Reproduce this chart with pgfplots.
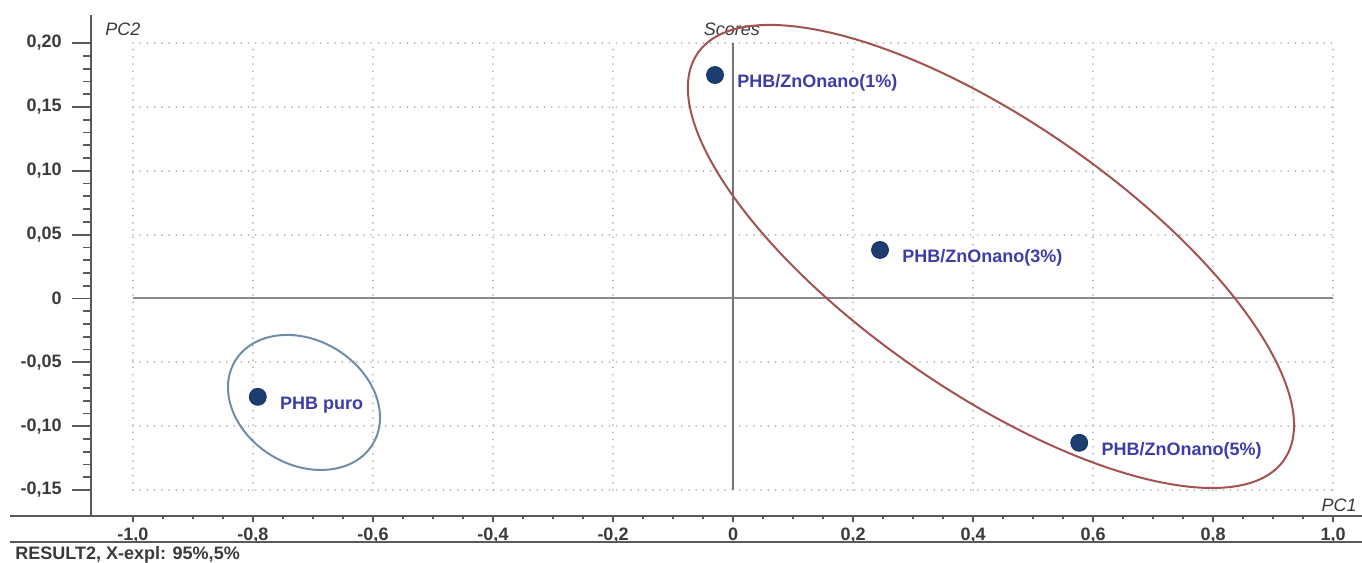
\documentclass[border=0pt]{standalone}
\usepackage{pgfplots}
\pgfplotsset{compat=1.18}
\usepackage{fontspec}
\setmainfont{Liberation Sans}
\definecolor{ptcol}{HTML}{1C3D70}
\definecolor{lblcol}{HTML}{3D3DA8}
\definecolor{redell}{HTML}{A3524F}
\definecolor{blueell}{HTML}{6F8DA9}
\definecolor{axcol}{HTML}{5A5A5A}
\definecolor{gridcol}{HTML}{B2B2B2}
\definecolor{zerocol}{HTML}{8A8A8A}
\definecolor{txtcol}{HTML}{3A3A3A}
\tikzset{gridline/.style={gridcol, line width=0.9pt, line cap=round, dash pattern=on 0.01pt off 3.6pt}}
\begin{document}
\begin{tikzpicture}
\useasboundingbox (-45.5pt,-23.5pt) rectangle (635.5pt,258pt);
\begin{axis}[
  at={(0pt,0pt)}, anchor=south west,
  scale only axis, width=635.5pt, height=250.5pt,
  xmin=-1.07, xmax=1.0483, ymin=-0.17032, ymax=0.22200,
  axis x line*=bottom, axis y line*=left,
  axis line style={draw=none},
  clip=false,
  font=\fontsize{9}{10.8}\selectfont,
  xtick={-1,-0.8,-0.6,-0.4,-0.2,0,0.2,0.4,0.6,0.8,1},
  xticklabels={{-1,0},{-0,8},{-0,6},{-0,4},{-0,2},0,{0,2},{0,4},{0,6},{0,8},{1,0}},
  xtick style={draw=none},
  ytick={-0.15,-0.1,-0.05,0,0.05,0.1,0.15,0.2},
  yticklabels={{-0,15},{-0,10},{-0,05},0,{0,05},{0,10},{0,15},{0,20}},
  minor y tick num=4,
  ytick style={axcol, line width=0.9pt},
  tick align=outside,
  major tick length=9.5pt, minor tick length=4pt,
  ticklabel style={font=\fontsize{9}{10.8}\selectfont\bfseries, text=txtcol},
  xticklabel style={anchor=base, inner sep=0pt, yshift=-2.5pt},
  yticklabel style={inner sep=0pt, xshift=-5pt},
]
% grid
\pgfplotsinvokeforeach{-1,-0.8,-0.6,-0.4,-0.2,0.2,0.4,0.6,0.8,1}{
  \draw[gridline] (axis cs:#1,-0.15) -- (axis cs:#1,0.2);}
\pgfplotsinvokeforeach{-0.15,-0.1,-0.05,0.05,0.1,0.15,0.2}{
  \draw[gridline] (axis cs:-1,#1) -- (axis cs:1,#1);}
% zero lines
\draw[zerocol, line width=1pt] (axis cs:-1,0) -- (axis cs:1,0);
\draw[zerocol!85!black, line width=1pt] (axis cs:0,-0.15) -- (axis cs:0,0.2);
% axis lines
\draw[axcol, line width=1.1pt] (axis cs:-1.07,-0.17032) -- (axis cs:-1.07,0.222);
\draw[axcol, line width=1.1pt] (axis cs:-1.205,-0.17032) -- (axis cs:1.0483,-0.17032);
\draw[axcol, line width=1.1pt] (axis cs:-1.205,-0.1907) -- (axis cs:1.0483,-0.1907);
% x ticks
\pgfplotsinvokeforeach{-1,-0.8,-0.6,-0.4,-0.2,0,0.2,0.4,0.6,0.8,1}{
  \draw[axcol, line width=0.7pt] (axis cs:#1,-0.17032) -- ++(0pt,-2.8pt);}
\pgfplotsinvokeforeach{-0.95,-0.9,-0.85,-0.75,-0.7,-0.65,-0.55,-0.5,-0.45,-0.35,-0.3,-0.25,-0.15,-0.1,-0.05,0.05,0.1,0.15,0.25,0.3,0.35,0.45,0.5,0.55,0.65,0.7,0.75,0.85,0.9,0.95}{
  \draw[axcol, line width=0.6pt] (axis cs:#1,-0.17032) -- ++(0pt,-1.4pt);}
% data
\addplot[only marks, mark=*, mark size=4.25pt,
  mark options={fill=ptcol, draw=ptcol!80!black, line width=0.4pt},
  point meta=explicit symbolic, nodes near coords,
  every node near coord/.style={anchor=west, xshift=11pt, yshift=-4pt, inner sep=0pt,
    font=\fontsize{9}{10.8}\selectfont\bfseries, text=lblcol}]
coordinates {
 (-0.03,0.175) [PHB/ZnOnano(1\%)]
 (0.245,0.038) [PHB/ZnOnano(3\%)]
 (0.577,-0.113) [PHB/ZnOnano(5\%)]
 (-0.792,-0.077) [PHB puro]
};
% texts
\node[anchor=west, inner sep=0pt, font=\fontsize{9}{10.8}\selectfont\itshape, text=txtcol] at (axis cs:-1.0467,0.211) {PC2};
\node[anchor=center, inner sep=0pt, font=\fontsize{9}{10.8}\selectfont\itshape, text=txtcol] at (axis cs:-0.002,0.2105) {Scores};
\node[anchor=east, inner sep=0pt, font=\fontsize{9}{10.8}\selectfont\itshape, text=txtcol] at (axis cs:1.04,-0.162) {PC1};
\node[anchor=west, inner sep=0pt, font=\fontsize{9}{10.8}\selectfont\bfseries, text=txtcol] at (axis cs:-1.1967,-0.2005) {RESULT2, X-expl: 95\%,5\%};
\coordinate (e1) at (axis cs:0.43,0.0329);
\coordinate (e2) at (axis cs:-0.715,-0.0814);
\end{axis}
\draw[redell, line width=1pt, rotate around={-34.75:(e1)}] (e1) ellipse [x radius=178.4pt, y radius=67.3pt];
\draw[blueell, line width=1pt, rotate around={-31:(e2)}] (e2) ellipse [x radius=40.2pt, y radius=31.1pt];
\end{tikzpicture}
\end{document}
